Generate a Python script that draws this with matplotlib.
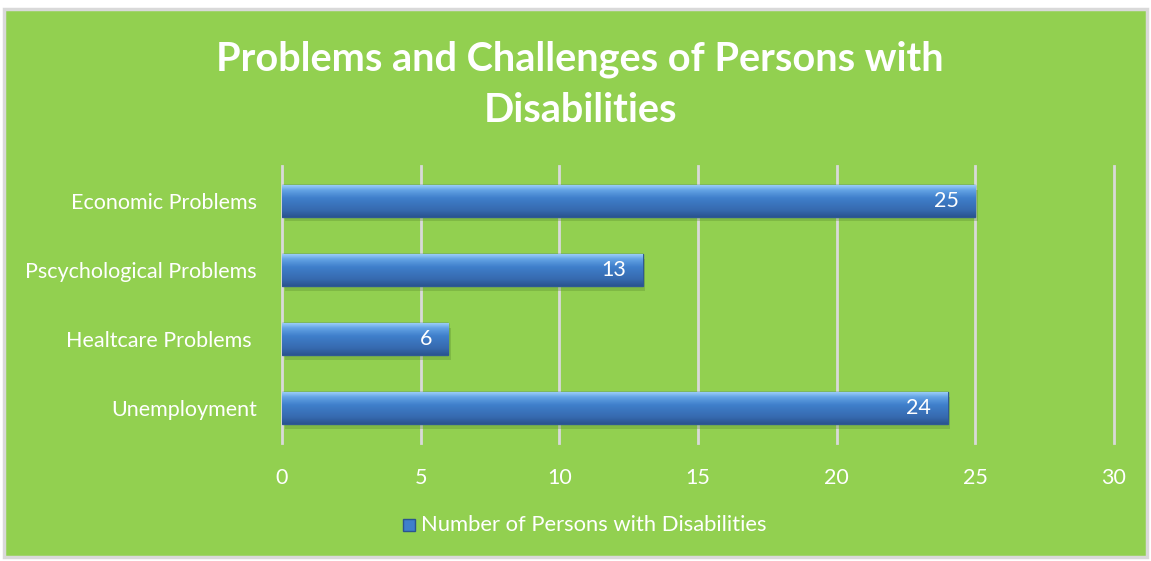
import numpy as np
import matplotlib.pyplot as plt
from matplotlib.patches import Rectangle
from matplotlib.colors import LinearSegmentedColormap

categories = ["Unemployment", "Healtcare Problems ", "Pscychological Problems", "Economic Problems"]
counts = [24, 6, 13, 25]
x_ticks = [0, 5, 10, 15, 20, 25, 30]
series_name = "Number of Persons with Disabilities"
title = "Problems and Challenges of Persons with\nDisabilities"

green = "#92D050"
grid_gray = "#D9D9D9"

plt.rcParams["font.family"] = ["Lato", "DejaVu Sans"]

fig = plt.figure(figsize=(11.51, 5.61), dpi=100, facecolor="white")
# chart area with thin gray frame
fig.patches.append(Rectangle((4 / 1151, 4 / 561), 1143 / 1151, 548 / 561,
                             transform=fig.transFigure, facecolor=green,
                             edgecolor=grid_gray, linewidth=2.5, zorder=-5))

ax = fig.add_axes([282 / 1151, 1 - 443 / 561, 832 / 1151, 277 / 561])
ax.set_zorder(2)
ax.set_facecolor("none")

bar_h = 0.46
ypos = np.arange(len(categories))

# vertical gradient for the bevelled bars (light top edge, darker bottom)
bar_cmap = LinearSegmentedColormap.from_list(
    "bevel", [(0.0, "#9ACDF8"), (0.15, "#63A3E4"), (0.4, "#3F7FCB"),
              (0.8, "#3669AE"), (1.0, "#2A5490")])
grad = np.linspace(0, 1, 64).reshape(-1, 1)

for y, v in zip(ypos, counts):
    # soft shadow below
    ax.add_patch(Rectangle((0.1, y - bar_h / 2 - 0.07), v, bar_h, facecolor="#5E8F2E",
                           alpha=0.35, edgecolor="none", zorder=2))
    r = ax.barh(y, v, height=bar_h, color="#3F7FCB", edgecolor="#2F5A92",
                linewidth=1.0, zorder=3)[0]
    im = ax.imshow(grad, cmap=bar_cmap, aspect="auto", interpolation="bicubic",
                   extent=(0, v, y - bar_h / 2, y + bar_h / 2), zorder=4)
    im.set_clip_path(r)
    ax.text(v - 0.6, y, str(v), color="white", fontsize=15.5, ha="right",
            va="center", zorder=5)

ax.set_xlim(0, 30)
ax.set_ylim(-0.5, 3.5)
ax.set_xticks(x_ticks)
ax.set_xticklabels([str(t) for t in x_ticks])
ax.set_yticks(ypos)
ax.set_yticklabels(categories)
ax.xaxis.grid(True, color=grid_gray, linewidth=2)
for gl in ax.get_xgridlines():
    gl.set_clip_on(False)
ax.set_axisbelow(True)
for s in ax.spines.values():
    s.set_visible(False)
ax.tick_params(axis="both", length=0, colors="white", labelsize=15.5)
ax.tick_params(axis="x", pad=18)
ax.tick_params(axis="y", pad=18)

fig.text(0.504, 1 - 85 / 561, title, color="white", fontsize=28.5, fontweight="bold",
         ha="center", va="center", linespacing=1.48)

# legend entry
fig.patches.append(Rectangle((403 / 1151, 1 - 531 / 561), 12 / 1151, 12 / 561,
                             transform=fig.transFigure, facecolor="#3F7FCB",
                             edgecolor="#2A5490", linewidth=1))
fig.text(421 / 1151, 1 - 525 / 561, series_name, color="white", fontsize=15.8,
         ha="left", va="center")

fig.savefig("out.png", dpi=100, facecolor=fig.get_facecolor())
